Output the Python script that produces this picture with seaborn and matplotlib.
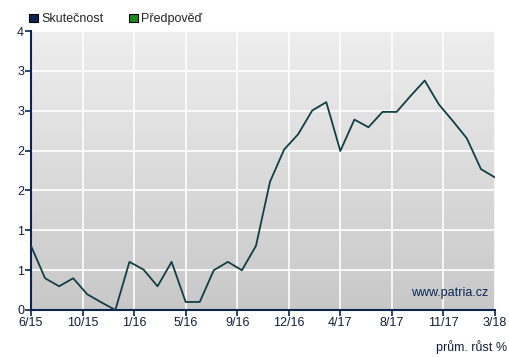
"""
Průměrný růst - skutečnost (patria.cz)
"""

import numpy as np
import pandas as pd
import matplotlib
matplotlib.use('Agg')
import matplotlib.pyplot as plt
import seaborn as sns
from matplotlib.patches import Patch

# data
months = list(range(34))  # 6/15 .. 3/18
values = [0.92, 0.455, 0.34, 0.455, 0.225, 0.11, 0.0, 0.69, 0.58, 0.34,
          0.69, 0.115, 0.115, 0.57, 0.69, 0.57, 0.92, 1.84, 2.30, 2.52,
          2.86, 2.98, 2.28, 2.73, 2.62, 2.84, 2.84, 3.07, 3.29, 2.95,
          2.71, 2.46, 2.02, 1.90]
x_labels = ['6/15', '10/15', '1/16', '5/16', '9/16', '12/16', '4/17', '8/17', '11/17', '3/18']
y_labels = ['0', '1', '1', '2', '2', '3', '3', '4']
legend_labels = ['Skutečnost', 'Předpověď']

df = pd.DataFrame({'month': months, 'value': values})

sns.set_theme(style='white')
plt.rcParams['font.family'] = ['Liberation Sans', 'DejaVu Sans']

W, H = 509, 357
fig = plt.figure(figsize=(W / 100, H / 100), dpi=100)
ax = fig.add_axes([31 / W, (H - 310) / H, (495 - 31) / W, (310 - 31) / H])

navy = '#0b2452'
ax.set_xlim(0, 33)
ax.set_ylim(0, 4)

# gradientni pozadi
grad = np.linspace(0, 1, 256).reshape(-1, 1)
cmap = matplotlib.colors.LinearSegmentedColormap.from_list('bg', ['#c8c8c8', '#eeeeee'])
ax.imshow(grad, aspect='auto', cmap=cmap, extent=[0, 33, 0, 4], origin='lower', zorder=0)

xt = np.linspace(0, 33, len(x_labels))
yt = np.linspace(0, 4, len(y_labels))
ax.set_xticks(xt)
ax.set_xticklabels(x_labels)
ax.set_yticks(yt)
ax.set_yticklabels(y_labels)
for v in xt[1:]:
    ax.axvline(v, color='white', lw=1.2, zorder=1)
for v in yt[1:]:
    ax.axhline(v, color='white', lw=1.2, zorder=1)

sns.lineplot(data=df, x='month', y='value', ax=ax, color='#123f45', lw=1.3, zorder=3)

ax.set_xlabel('')
ax.set_ylabel('')
for s in ['top', 'right']:
    ax.spines[s].set_visible(False)
for s in ['left', 'bottom']:
    ax.spines[s].set_color(navy)
    ax.spines[s].set_linewidth(1.5)
ax.tick_params(axis='both', colors=navy, labelcolor='#10203a', labelsize=9,
               length=4, width=1.2, direction='out', pad=1)
ax.xaxis.set_ticks_position('bottom')
ax.yaxis.set_ticks_position('left')

ax.text(0.985, 0.04, 'www.patria.cz', transform=ax.transAxes, ha='right', va='bottom',
        fontsize=9, color=navy, zorder=4)
fig.text(507 / W, 1 - 354 / H, 'prům. růst %', ha='right', va='bottom', fontsize=9, color='#10203a')

handles = [Patch(facecolor=navy, edgecolor='black', lw=0.8),
           Patch(facecolor='#1a8a1a', edgecolor='black', lw=0.8)]
fig.legend(handles, legend_labels, loc='upper left', bbox_to_anchor=(18 / W, 1 - 2 / H),
           ncol=2, frameon=False, fontsize=9, handlelength=0.7, handleheight=0.7,
           handletextpad=0.3, columnspacing=2.0)

fig.savefig('out.png', dpi=100)
